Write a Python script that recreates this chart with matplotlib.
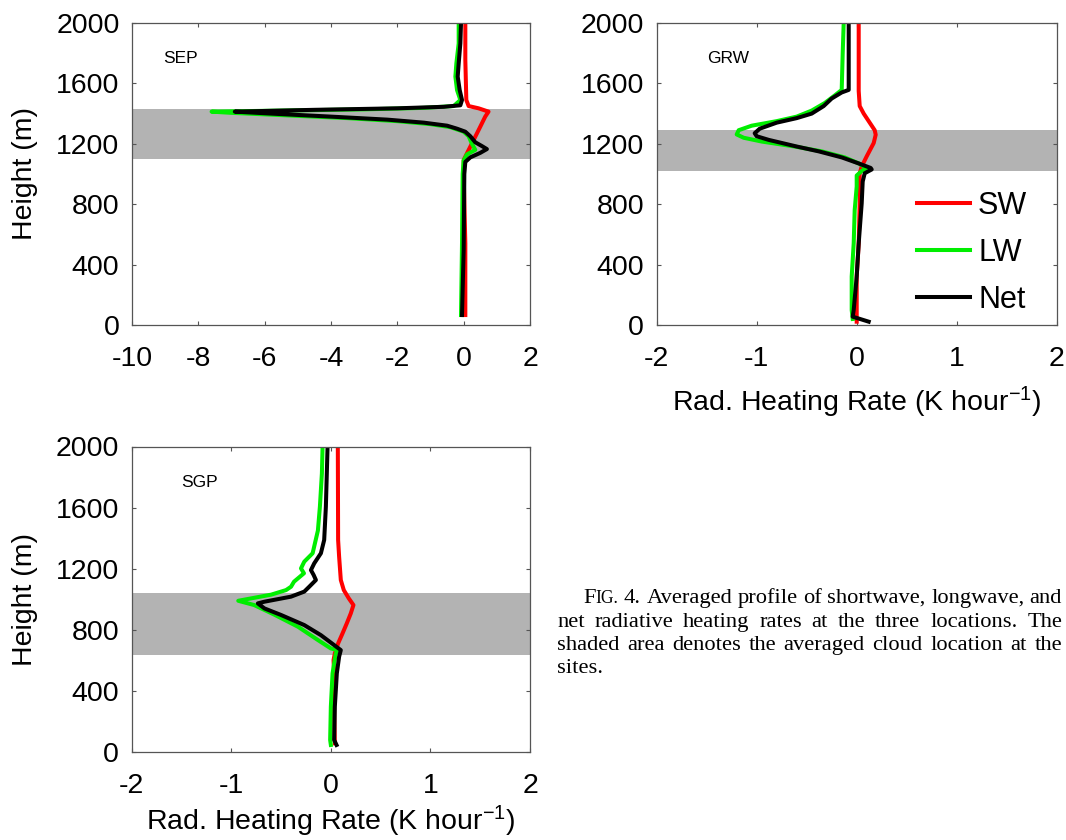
import matplotlib
matplotlib.use("Agg")
import matplotlib.pyplot as plt

plt.rcParams['font.family'] = ['Liberation Sans', 'DejaVu Sans']
plt.rcParams['mathtext.fontset'] = 'custom'
plt.rcParams['mathtext.rm'] = 'Liberation Sans'
plt.rcParams['mathtext.it'] = 'Liberation Sans:italic'

# ---------------- data: heating rate profiles (K/hour) vs height (m) ----------------
series_labels = ["SW", "LW", "Net"]
series_colors = ["#ff0000", "#00ee00", "#000000"]

# SEP
sep_sw_h = [66, 540, 1004, 1093, 1159, 1225, 1313, 1380, 1413, 1435, 1450, 1490, 1755, 2000]
sep_sw_x = [0.05, 0.05, 0.0, 0.0, 0.15, 0.3, 0.5, 0.65, 0.75, 0.45, 0.15, 0.08, 0.05, 0.05]
sep_lw_h = [66, 540, 1000, 1090, 1130, 1160, 1200, 1250, 1280, 1310, 1330, 1350, 1370, 1390,
            1405, 1413, 1420, 1428, 1438, 1450, 1490, 1556, 1645, 1733, 1865, 2000]
sep_lw_x = [-0.08, -0.05, -0.03, 0.0, 0.1, 0.35, 0.25, 0.15, 0.0, -0.4, -1.0, -2.0, -3.5, -5.5,
            -7.0, -7.6, -5.5, -3.0, -1.2, -0.3, -0.1, -0.2, -0.25, -0.22, -0.15, -0.15]
sep_net_h = [66, 500, 1000, 1080, 1110, 1140, 1165, 1185, 1210, 1250, 1280, 1300, 1320, 1340,
             1360, 1380, 1400, 1413, 1425, 1435, 1445, 1455, 1490, 1556, 1645, 1733, 1865, 2000]
sep_net_x = [-0.05, 0.0, 0.02, 0.05, 0.2, 0.5, 0.7, 0.55, 0.35, 0.2, 0.05, -0.2, -0.5, -1.2,
             -2.3, -4.0, -5.8, -6.9, -4.5, -2.0, -0.6, -0.1, -0.05, -0.12, -0.18, -0.15, -0.1, -0.08]
sep_cloud = [1100, 1430]

# GRW
grw_sw_h = [22, 321, 541, 806, 1005, 1027, 1050, 1117, 1205, 1260, 1290, 1340, 1400, 1450, 1550, 2000]
grw_sw_x = [0.0, 0.0, 0.02, 0.03, 0.03, 0.04, 0.05, 0.1, 0.17, 0.19, 0.18, 0.13, 0.07, 0.03, 0.02, 0.02]
grw_lw_h = [40, 99, 321, 541, 762, 917, 990, 1020, 1040, 1070, 1110, 1150, 1182, 1215, 1240,
            1262, 1290, 1320, 1350, 1380, 1420, 1470, 1520, 1557, 1800, 2000]
grw_lw_x = [-0.04, -0.05, -0.05, -0.03, -0.02, 0.0, 0.0, 0.05, 0.1, 0.02, -0.12, -0.35, -0.62,
            -0.95, -1.13, -1.2, -1.18, -1.05, -0.8, -0.6, -0.45, -0.32, -0.22, -0.15, -0.14, -0.13]
grw_net_h = [22, 55, 99, 321, 541, 806, 950, 1005, 1030, 1040, 1070, 1110, 1150, 1182, 1226,
             1250, 1270, 1300, 1340, 1370, 1400, 1450, 1500, 1540, 1557, 2000]
grw_net_x = [0.12, -0.04, -0.03, 0.0, 0.02, 0.05, 0.06, 0.08, 0.15, 0.14, 0.02, -0.15, -0.38,
             -0.6, -0.88, -1.0, -1.02, -0.97, -0.8, -0.6, -0.45, -0.33, -0.25, -0.15, -0.08, -0.08]
grw_cloud = [1020, 1290]

# SGP
sgp_sw_h = [57, 297, 515, 602, 645, 711, 776, 842, 907, 962, 1006, 1060, 1126, 1279, 1388, 2000]
sgp_sw_x = [0.04, 0.033, 0.033, 0.027, 0.04, 0.073, 0.117, 0.16, 0.2, 0.227, 0.18, 0.13, 0.1,
            0.083, 0.073, 0.07]
sgp_lw_h = [46, 79, 297, 515, 645, 667, 678, 733, 820, 900, 962, 990, 1030, 1060, 1082, 1115,
            1170, 1202, 1246, 1301, 1450, 1606, 1824, 2000]
sgp_lw_x = [0.0, -0.007, 0.0, 0.017, 0.05, 0.067, 0.0, -0.13, -0.33, -0.57, -0.77, -0.93, -0.6,
            -0.45, -0.4, -0.37, -0.27, -0.3, -0.267, -0.183, -0.13, -0.11, -0.09, -0.083]
sgp_net_h = [46, 79, 297, 515, 624, 667, 700, 765, 831, 897, 940, 973, 984, 1017, 1050, 1082,
             1126, 1159, 1191, 1235, 1301, 1388, 1606, 2000]
sgp_net_x = [0.057, 0.033, 0.04, 0.06, 0.083, 0.1, 0.033, -0.1, -0.267, -0.5, -0.667, -0.733,
             -0.667, -0.4, -0.267, -0.217, -0.15, -0.173, -0.2, -0.167, -0.1, -0.067, -0.05, -0.033]
sgp_cloud = [635, 1040]

height_ticks = [0, 400, 800, 1200, 1600, 2000]
sep_xticks = [-10, -8, -6, -4, -2, 0, 2]
wide_xticks = [-2, -1, 0, 1, 2]

W, H = 1066, 840
fig = plt.figure(figsize=(W / 100, H / 100), dpi=100)
fig.patch.set_facecolor("white")


def px_axes(left, top, right, bottom):
    return fig.add_axes([left / W, 1 - bottom / H, (right - left) / W, (bottom - top) / H])


def style_axes(ax, xticks, xlim):
    ax.set_xlim(*xlim)
    ax.set_ylim(0, 2000)
    ax.set_xticks(xticks)
    ax.set_yticks(height_ticks)
    ax.set_xticklabels([str(t) for t in xticks])
    ax.tick_params(direction="in", top=True, right=True, length=3.2, width=0.8,
                   color="#555555", labelsize=20.5)
    ax.tick_params(axis="x", pad=15)
    ax.tick_params(axis="y", pad=9)
    for s in ax.spines.values():
        s.set_color("#555555")
        s.set_linewidth(0.9)


def draw_site(ax, name, name_pos, cloud, profiles):
    ax.axhspan(cloud[0], cloud[1], color="#b3b3b3", lw=0, zorder=0)
    lines = []
    for (hh, xx), lab, col in zip(profiles, series_labels, series_colors):
        ln, = ax.plot(xx, hh, color=col, lw=2.9, label=lab, solid_joinstyle="round", zorder=2)
        lines.append(ln)
    ax.text(name_pos[0], name_pos[1], name, transform=ax.transAxes, fontsize=12.5,
            va="baseline", ha="left")
    return lines


xlabel_text = r"Rad. Heating Rate (K hour$^{\mathregular{-1}}$)"

ax1 = px_axes(132, 23, 530, 325)
style_axes(ax1, sep_xticks, (-10, 2))
draw_site(ax1, "SEP", (0.079, 0.8685), sep_cloud,
          [(sep_sw_h, sep_sw_x), (sep_lw_h, sep_lw_x), (sep_net_h, sep_net_x)])
ax1.set_ylabel("Height (m)", fontsize=20.5, labelpad=13)

ax2 = px_axes(656.7, 23, 1056.7, 325)
style_axes(ax2, wide_xticks, (-2, 2))
draw_site(ax2, "GRW", (0.125, 0.8685), grw_cloud,
          [(grw_sw_h, grw_sw_x), (grw_lw_h, grw_lw_x), (grw_net_h, grw_net_x)])
ax2.set_xlabel(xlabel_text, fontsize=20.5, labelpad=9)
ax2.legend(loc="upper left", bbox_to_anchor=(0.62, 0.485), frameon=False, fontsize=22,
           handlelength=1.75, handletextpad=0.25, labelspacing=0.56, borderaxespad=0)

ax3 = px_axes(131.7, 446.5, 530, 752)
style_axes(ax3, wide_xticks, (-2, 2))
draw_site(ax3, "SGP", (0.123, 0.867), sgp_cloud,
          [(sgp_sw_h, sgp_sw_x), (sgp_lw_h, sgp_lw_x), (sgp_net_h, sgp_net_x)])
ax3.set_xlabel(xlabel_text, fontsize=20.5, labelpad=3.5)
ax3.set_ylabel("Height (m)", fontsize=20.5, labelpad=13)

# ---------------- justified caption ----------------
cap_size = 16.2
cap_font = ["Liberation Serif", "DejaVu Serif"]
caption_lines = [
    [[("F", 1.0), ("IG.", 0.78)], [("4.", 1.0)], [("Averaged", 1.0)], [("profile", 1.0)],
     [("of", 1.0)], [("shortwave,", 1.0)], [("longwave,", 1.0)], [("and", 1.0)]],
    [[(w, 1.0)] for w in "net radiative heating rates at the three locations. The".split()],
    [[(w, 1.0)] for w in "shaded area denotes the averaged cloud location at the".split()],
    [[(w, 1.0)] for w in "sites.".split()],
]
line_baselines = [603, 627, 650, 673]
line_left = [583, 557, 557, 557]
right_edge = 1062
renderer = fig.canvas.get_renderer()


def run_width(txt, scale):
    t = fig.text(0, 0, txt, fontsize=cap_size * scale, family=cap_font)
    w = t.get_window_extent(renderer).width
    t.remove()
    return w


space_w = run_width("a b", 1.0) - run_width("ab", 1.0)
for i, words in enumerate(caption_lines):
    widths = [[run_width(txt, sc) for txt, sc in word] for word in words]
    total = sum(sum(w) for w in widths)
    if i < len(caption_lines) - 1 and len(words) > 1:
        gap = (right_edge - line_left[i] - total) / (len(words) - 1)
    else:
        gap = space_w
    x = line_left[i]
    for word, ws in zip(words, widths):
        for (txt, sc), w in zip(word, ws):
            fig.text(x / W, 1 - line_baselines[i] / H, txt, fontsize=cap_size * sc,
                     family=cap_font, va="baseline", ha="left")
            x += w
        x += gap

fig.savefig("out.png", dpi=100, facecolor="white")
